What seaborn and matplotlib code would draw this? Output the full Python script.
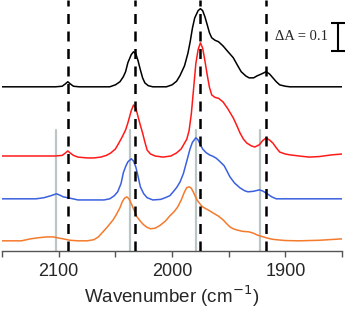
import numpy as np
import pandas as pd
import matplotlib
matplotlib.use("Agg")
import matplotlib.pyplot as plt
import seaborn as sns

# spectra (wavenumber in cm-1, absorbance above own baseline)
wn_black = [2150, 2103, 2097, 2094, 2092, 2090, 2087, 2082, 2055, 2050, 2046, 2043, 2041, 2039, 2036,
            2034, 2032, 2030, 2028, 2026, 2024, 2021, 2017, 2005, 2000, 1996, 1993, 1989, 1986, 1984,
            1982, 1980, 1977, 1975, 1973, 1971, 1969, 1967, 1965, 1962, 1959, 1955, 1951, 1946, 1942,
            1939, 1935, 1932, 1928, 1925, 1921, 1917, 1914, 1911, 1908, 1905, 1900, 1896, 1850]
a_black = [0, 0, 0.002, 0.011, 0.018, 0.011, 0.002, 0, 0, 0.007, 0.018, 0.036, 0.054, 0.086, 0.115,
           0.125, 0.118, 0.093, 0.061, 0.032, 0.014, 0.004, 0, 0, 0.007, 0.020, 0.040, 0.075, 0.120, 0.161,
           0.210, 0.246, 0.272, 0.279, 0.272, 0.250, 0.222, 0.193, 0.175, 0.166, 0.161, 0.146, 0.127, 0.104, 0.075,
           0.054, 0.039, 0.032, 0.032, 0.039, 0.046, 0.054, 0.046, 0.032, 0.018, 0.007, 0.002, 0, 0]

wn_red = [2150, 2103, 2097, 2094, 2092, 2090, 2087, 2083, 2075, 2069, 2063, 2058, 2054, 2050, 2047,
          2044, 2041, 2039, 2036, 2034, 2032, 2030, 2028, 2026, 2024, 2022, 2019, 2015, 2008, 2001,
          1996, 1992, 1989, 1987, 1985, 1983, 1981, 1979, 1977, 1975, 1973, 1971, 1969, 1967, 1965,
          1962, 1959, 1955, 1951, 1946, 1943, 1940, 1937, 1934, 1930, 1927, 1923, 1920, 1917, 1914,
          1911, 1908, 1905, 1900, 1896, 1888, 1879, 1870, 1859, 1850]
a_red = [0, 0, 0.002, 0.011, 0.018, 0.011, 0.002, -0.004, -0.007, -0.007, -0.004, 0.002, 0.011, 0.025, 0.046,
         0.068, 0.093, 0.118, 0.162, 0.182, 0.172, 0.140, 0.110, 0.082, 0.050, 0.021, 0.007, 0, -0.004, 0,
         0.011, 0.025, 0.046, 0.060, 0.090, 0.150, 0.240, 0.330, 0.380, 0.404, 0.385, 0.340, 0.290, 0.245, 0.218,
         0.209, 0.206, 0.193, 0.170, 0.136, 0.110, 0.082, 0.060, 0.046, 0.036, 0.032, 0.040, 0.055, 0.064, 0.057,
         0.046, 0.029, 0.014, 0.007, 0.004, 0, -0.004, -0.002, 0.004, 0.007]

wn_blue = [2150, 2120, 2113, 2107, 2102, 2099, 2096, 2092, 2083, 2060, 2055, 2051, 2048, 2045, 2043,
           2041, 2039, 2036, 2034, 2032, 2030, 2028, 2025, 2022, 2017, 2010, 2006, 2002, 1999, 1996,
           1993, 1990, 1986, 1984, 1982, 1979, 1977, 1975, 1973, 1970, 1967, 1964, 1961, 1958, 1954,
           1951, 1949, 1945, 1940, 1936, 1933, 1928, 1923, 1920, 1916, 1912, 1908, 1850]
a_blue = [0, 0, 0.004, 0.011, 0.018, 0.013, 0.007, 0.004, -0.004, -0.004, 0, 0.011, 0.025, 0.055, 0.093,
          0.115, 0.132, 0.143, 0.135, 0.114, 0.080, 0.043, 0.018, 0.004, -0.004, -0.002, 0.004, 0.011, 0.025, 0.040,
          0.060, 0.090, 0.150, 0.180, 0.202, 0.218, 0.210, 0.193, 0.178, 0.165, 0.157, 0.152, 0.145, 0.134, 0.118,
          0.095, 0.079, 0.057, 0.039, 0.029, 0.025, 0.027, 0.032, 0.028, 0.018, 0.007, 0, 0]

wn_orange = [2150, 2133, 2125, 2118, 2110, 2105, 2100, 2096, 2090, 2083, 2075, 2069, 2065, 2061, 2057,
             2052, 2049, 2046, 2044, 2042, 2040, 2038, 2036, 2033, 2031, 2028, 2025, 2022, 2019, 2015,
             2011, 2006, 2002, 1998, 1995, 1992, 1989, 1987, 1985, 1983, 1981, 1978, 1975, 1973, 1968,
             1964, 1959, 1955, 1952, 1949, 1946, 1943, 1938, 1932, 1928, 1925, 1921, 1917, 1912, 1908,
             1900, 1888, 1870, 1850]
a_orange = [0, 0, 0.007, 0.011, 0.014, 0.014, 0.010, 0.007, 0.002, 0, 0, 0.004, 0.014, 0.032, 0.050,
            0.075, 0.095, 0.118, 0.139, 0.152, 0.157, 0.150, 0.133, 0.105, 0.086, 0.070, 0.057, 0.048, 0.043, 0.045,
            0.054, 0.070, 0.089, 0.105, 0.121, 0.145, 0.175, 0.190, 0.193, 0.188, 0.172, 0.146, 0.130, 0.121, 0.110,
            0.100, 0.088, 0.075, 0.062, 0.050, 0.043, 0.039, 0.034, 0.032, 0.027, 0.021, 0.016, 0.011, 0.006, 0.004,
            0.001, 0, 0.002, 0.007]

names = ["black", "red", "blue", "orange"]
offsets = [0.586, 0.339, 0.186, 0.036]
colors = ["#000000", "#ff1a1a", "#3a60e0", "#f47a2c"]

dashed_wn = [2092, 2033, 1975, 1917]
gray_wn = [2102, 2037, 1979, 1922]

frames = []
for name, wn, a, off in zip(names, [wn_black, wn_red, wn_blue, wn_orange],
                            [a_black, a_red, a_blue, a_orange], offsets):
    frames.append(pd.DataFrame({"wn": wn, "A": np.array(a) + off, "trace": name}))
df = pd.concat(frames, ignore_index=True)

sns.set_style("white")
plt.rcParams["font.family"] = ["Liberation Sans", "DejaVu Sans"]

fig = plt.figure(figsize=(3.49, 3.09), dpi=100)
ax = fig.add_axes([0.006, 0.188, 0.974, 0.812])

for x in gray_wn:
    ax.plot([x, x], [0, 0.432], color="#bcc6c6", lw=1.6, zorder=1)
for x in dashed_wn:
    ax.axvline(x, color="black", lw=1.8, ls=(0, (4, 3)), zorder=3)

sns.lineplot(data=df, x="wn", y="A", hue="trace", palette=dict(zip(names, colors)),
             estimator=None, sort=False, lw=1.1, legend=False, ax=ax, zorder=2)

ax.set_xlim(2150, 1850)
ax.set_ylim(0, 0.896)
ax.set_xticks([2100, 2000, 1900])
ax.set_xticks([2150, 2050, 1950, 1850], minor=True)
ax.set_yticks([])
ax.tick_params(axis="x", which="both", direction="out", length=4, width=1, color="#555555",
               bottom=True, labelsize=13, pad=5)
ax.set_xlabel("Wavenumber (cm$^{-1}$)", fontsize=13.5, labelpad=2)
ax.set_ylabel("")
sns.despine(ax=ax, left=True, top=True, right=True)
ax.spines["bottom"].set_color("#555555")
ax.spines["bottom"].set_linewidth(1)

# scale bar
ax.errorbar([1853.5], [0.764], yerr=0.05, color="black", lw=1.5, capsize=5, capthick=1.5,
            clip_on=False)
ax.text(1862, 0.764, "ΔA = 0.1", ha="right", va="center", fontsize=10.5,
        family=["Liberation Serif", "DejaVu Serif"])

fig.savefig("out.png", dpi=100)
